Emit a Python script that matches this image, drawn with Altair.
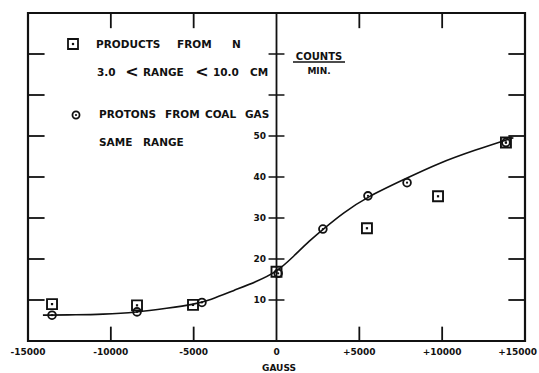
import altair as alt
import pandas as pd

# Data
sq_x = [-13550, -8420, -5040, 0, 5460, 9750, 13850]
sq_y = [9.0, 8.7, 8.8, 16.9, 27.5, 35.3, 48.4]

circ_x = [-13550, -8420, -4500, 100, 2800, 5520, 7880, 13850]
circ_y = [6.3, 7.1, 9.4, 16.5, 27.3, 35.4, 38.6, 48.4]

curve_x = [-14100, -12000, -10600, -8400, -6600, -5000, -4000, -2600, -1200, 0,
           1000, 2000, 2800, 4000, 5500, 7800, 9800, 12000, 14300]
curve_y = [6.3, 6.4, 6.5, 7.0, 8.0, 8.9, 10.0, 12.3, 14.5, 16.8,
           20.5, 24.5, 27.2, 31.2, 35.2, 39.6, 43.4, 46.6, 49.6]

x_ticks = [-15000, -10000, -5000, 0, 5000, 10000]
x_last = [15000]
inner_x_ticks = [-10000, -5000, 5000, 10000]
y_ticks = [10, 20, 30, 40, 50, 60, 70]
y_labels = [10, 20, 30, 40, 50]

FONT = "DejaVu Sans"
INK = "#111111"

W, H = 497, 328
xs = alt.Scale(domain=[-15000, 15000], nice=False, zero=False)
ys = alt.Scale(domain=[0, 80], nice=False, zero=False)

sq_df = pd.DataFrame({"x": sq_x, "y": sq_y})
circ_df = pd.DataFrame({"x": circ_x, "y": circ_y})
curve_df = pd.DataFrame({"x": curve_x, "y": curve_y})

# frame ticks (inward)
bottom_t = pd.DataFrame({"x": inner_x_ticks, "y": [0] * 4, "y2": [3.5] * 4})
top_t = pd.DataFrame({"x": inner_x_ticks, "y": [80] * 4, "y2": [76.3] * 4})
left_t = pd.DataFrame({"x": [-15000] * 7, "x2": [-14000] * 7, "y": y_ticks})
right_t = pd.DataFrame({"x": [15000] * 7, "x2": [14000] * 7, "y": y_ticks})
center_t = pd.DataFrame({"x": [-480] * 7, "x2": [480] * 7, "y": y_ticks})

X = lambda f="x": alt.X(f"{f}:Q", scale=xs, axis=None)
Y = lambda f="y": alt.Y(f"{f}:Q", scale=ys, axis=None)

LBL = "datum.x > 0 ? '+' + datum.x : (datum.x < 0 ? '-' + abs(datum.x) : '0')"

x_lab = alt.Chart(pd.DataFrame({"x": x_ticks})).mark_text(
    font=FONT, fontSize=9, fontWeight="bold", color=INK, baseline="middle"
).encode(x=X(), y=alt.value(H + 11), text=alt.Text("lbl:N")).transform_calculate(lbl=LBL)

x_lab_last = alt.Chart(pd.DataFrame({"x": x_last})).mark_text(
    font=FONT, fontSize=9, fontWeight="bold", color=INK, baseline="middle",
    align="right", dx=12
).encode(x=X(), y=alt.value(H + 11), text=alt.Text("lbl:N")).transform_calculate(lbl=LBL)

gauss = alt.Chart(pd.DataFrame({"t": ["GAUSS"]})).mark_text(
    font=FONT, fontSize=9, fontWeight="bold", color=INK
).encode(x=alt.value(251), y=alt.value(H + 27), text="t:N")

ticks_v = lambda df: alt.Chart(df).mark_rule(color=INK, strokeWidth=1.8).encode(
    x=X(), y=Y(), y2="y2:Q")
ticks_h = lambda df, sw=1.8: alt.Chart(df).mark_rule(color=INK, strokeWidth=sw).encode(
    x=X(), x2="x2:Q", y=Y())

center_axis = alt.Chart(pd.DataFrame({"x": [0], "y": [0], "y2": [80]})).mark_rule(
    color=INK, strokeWidth=1.8).encode(x=X(), y=Y(), y2="y2:Q")

y_lab = alt.Chart(pd.DataFrame({"y": y_labels})).mark_text(
    font=FONT, fontSize=9, fontWeight="bold", color=INK, align="right", baseline="middle"
).encode(x=alt.value(238), y=Y(), text="y:Q")

curve = alt.Chart(curve_df).mark_line(
    color=INK, strokeWidth=1.6, interpolate="basis"
).encode(x=X(), y=Y())

squares = alt.Chart(sq_df).mark_point(
    shape="square", filled=False, size=100, color=INK, strokeWidth=1.9, opacity=1
).encode(x=X(), y=Y())
sq_dots = alt.Chart(sq_df).mark_point(
    shape="square", filled=True, size=5, color=INK, opacity=1
).encode(x=X(), y=Y())

circles = alt.Chart(circ_df).mark_point(
    shape="circle", filled=False, size=60, color=INK, strokeWidth=1.8, opacity=1
).encode(x=X(), y=Y())
circ_dots = alt.Chart(circ_df).mark_point(
    shape="circle", filled=True, size=5, color=INK, opacity=1
).encode(x=X(), y=Y())


# legend / annotations (pixel positions relative to plot origin at (28,13))
def txt(t, x, y, size=10.5, align="left"):
    return alt.Chart(pd.DataFrame({"t": [t]})).mark_text(
        font=FONT, fontSize=size, fontWeight="bold", color=INK, align=align, baseline="middle"
    ).encode(x=alt.value(x), y=alt.value(y), text="t:N")


def sym(shape, x, y, size, sw=1.8):
    one = pd.DataFrame({"a": [1]})
    ring = alt.Chart(one).mark_point(
        shape=shape, filled=False, size=size, color=INK, strokeWidth=sw, opacity=1
    ).encode(x=alt.value(x), y=alt.value(y))
    dot = alt.Chart(one).mark_point(
        shape=shape, filled=True, size=5, color=INK, opacity=1
    ).encode(x=alt.value(x), y=alt.value(y))
    return [ring, dot]


underline = alt.Chart(pd.DataFrame({"a": [1]})).mark_rule(color=INK, strokeWidth=1.3).encode(
    x=alt.value(265), x2=alt.value(317), y=alt.value(49))

layers = [
    center_axis,
    ticks_v(bottom_t), ticks_v(top_t),
    ticks_h(left_t), ticks_h(right_t), ticks_h(center_t, 1.5),
    y_lab, x_lab, x_lab_last, gauss,
    curve, squares, sq_dots, circles, circ_dots,
    *sym("square", 45, 31, 100),
    *sym("circle", 48, 102, 50),
    txt("PRODUCTS", 68, 32), txt("FROM", 149, 32), txt("N", 204, 32),
    txt("3.0", 69, 60),
    txt("<", 104, 59, size=16, align="center"),
    txt("RANGE", 115, 60),
    txt("<", 174, 59, size=16, align="center"),
    txt("10.0", 185, 60),
    txt("CM", 222, 60),
    txt("PROTONS", 71, 102), txt("FROM", 137, 102), txt("COAL", 177, 102), txt("GAS", 217, 102),
    txt("SAME", 71, 130), txt("RANGE", 115, 130),
    txt("COUNTS", 291, 44, size=10, align="center"),
    underline,
    txt("MIN.", 291, 58, size=9, align="center"),
]

chart = alt.layer(*layers).properties(
    width=W, height=H,
    padding={"left": 28, "top": 13, "right": 14, "bottom": 32},
    autosize=alt.AutoSizeParams(type="none"),
    background="white",
).configure_view(stroke=INK, strokeWidth=2.2)

chart.save("out.html", embed_options={"renderer": "svg", "actions": False})
